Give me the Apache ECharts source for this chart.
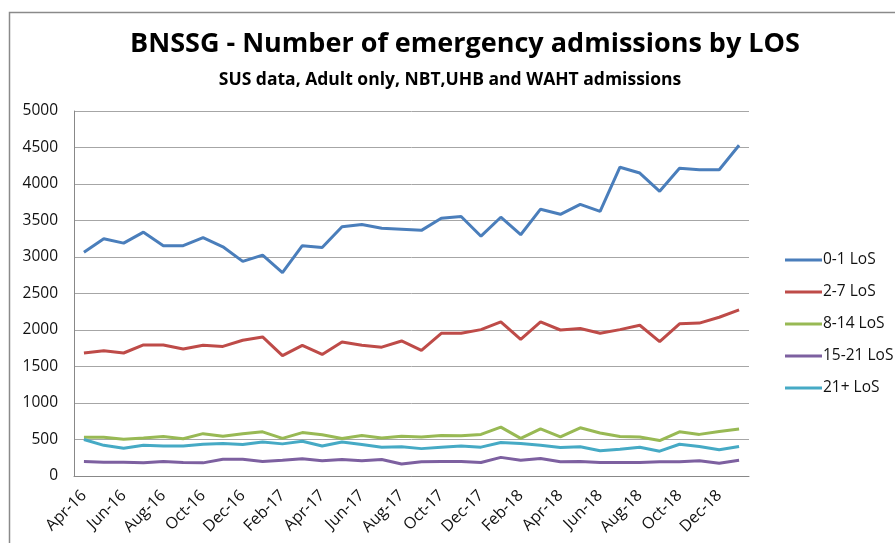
<!DOCTYPE html>
<html>
<head>
<meta charset="utf-8">
<script src="https://cdn.jsdelivr.net/npm/echarts@6/dist/echarts.min.js"></script>
<style>
html,body{margin:0;padding:0;background:#fff;}
#chart{width:895px;height:543px;}
</style>
</head>
<body>
<div id="chart"></div>
<script>
const months = ["Apr-16","May-16","Jun-16","Jul-16","Aug-16","Sep-16","Oct-16","Nov-16","Dec-16","Jan-17","Feb-17","Mar-17",
  "Apr-17","May-17","Jun-17","Jul-17","Aug-17","Sep-17","Oct-17","Nov-17","Dec-17","Jan-18","Feb-18","Mar-18",
  "Apr-18","May-18","Jun-18","Jul-18","Aug-18","Sep-18","Oct-18","Nov-18","Dec-18","Jan-19"];
const los0_1 = [3065,3250,3190,3340,3155,3155,3265,3140,2940,3025,2785,3155,
  3130,3415,3445,3395,3380,3365,3530,3555,3285,3545,3305,3655,
  3585,3720,3625,4230,4150,3900,4215,4195,4195,4530];
const los2_7 = [1685,1715,1685,1795,1795,1740,1790,1775,1860,1905,1650,1790,
  1665,1835,1790,1765,1850,1720,1955,1955,2005,2110,1870,2110,
  2000,2020,1955,2005,2065,1840,2085,2095,2175,2275];
const los8_14 = [530,530,505,520,540,510,580,545,580,605,515,595,
  565,515,555,520,545,535,555,550,570,670,515,645,
  535,660,590,540,535,485,605,570,610,645];
const los15_21 = [200,190,190,180,200,185,180,230,230,200,215,235,
  210,225,210,225,165,195,200,200,185,255,215,240,
  195,200,185,185,185,195,195,210,175,215];
const los21p = [500,420,380,420,410,410,435,445,430,465,440,475,
  410,465,430,395,400,375,395,410,395,460,445,420,
  390,400,345,365,395,340,435,405,360,405];
const yTicks = [0,500,1000,1500,2000,2500,3000,3500,4000,4500,5000];
const seriesNames = ["0-1 LoS","2-7 LoS","8-14 LoS","15-21 LoS","21+ LoS"];
const seriesData = [los0_1, los2_7, los8_14, los15_21, los21p];
const colors = ["#4A7EBB","#BE4B48","#98B954","#7D60A0","#46AAC5"];

const font = "'Open Sans', 'Liberation Sans', sans-serif";
const chart = echarts.init(document.getElementById('chart'), null, {renderer:'canvas'});
chart.setOption({
  animation: false,
  backgroundColor: '#ffffff',
  color: colors,
  title: [{
    text: 'BNSSG - Number of emergency admissions by LOS',
    left: 460, top: 26, textAlign: 'center',
    textStyle: {fontFamily: font, fontWeight: 'bold', fontSize: 27, color: '#000'}
  },{
    text: 'SUS data, Adult only, NBT,UHB and WAHT admissions',
    left: 445, top: 66, textAlign: 'center',
    textStyle: {fontFamily: font, fontWeight: 'bold', fontSize: 17.5, color: '#000'}
  }],
  graphic: [{
    type: 'rect', silent: true,
    shape: {x: 9.5, y: 12.5, width: 900, height: 600},
    style: {fill: 'none', stroke: '#8a8a8a', lineWidth: 1.5}
  }],
  legend: {
    orient: 'vertical', left: 780, top: 247, itemGap: 16,
    itemWidth: 37, itemHeight: 3,
    icon: 'rect',
    data: seriesNames,
    textStyle: {fontFamily: font, fontSize: 15.5, color: '#111', padding: [0,0,0,-4]}
  },
  grid: {left: 74, right: 146, top: 111, bottom: 67, containLabel: false},
  xAxis: {
    type: 'category', data: months, boundaryGap: true,
    axisLine: {show: true, lineStyle: {color: '#888', width: 1}},
    axisTick: {show: false},
    axisLabel: {interval: 1, rotate: 45, fontFamily: font, fontSize: 16, color: '#111', margin: 17}
  },
  yAxis: {
    type: 'value', min: 0, max: 5000, interval: 500,
    axisLine: {show: true, lineStyle: {color: '#888', width: 1}},
    axisTick: {show: false},
    splitLine: {lineStyle: {color: '#a6a6a6', width: 1}},
    axisLabel: {fontFamily: font, fontSize: 15.5, color: '#111', margin: 16,
      formatter: v => yTicks.includes(v) ? String(v) : ''}
  },
  series: seriesNames.map((n, i) => ({
    name: n, type: 'line', data: seriesData[i],
    symbol: 'none', lineStyle: {width: 3, color: colors[i]},
    itemStyle: {color: colors[i]}
  }))
});
</script>
</body>
</html>
